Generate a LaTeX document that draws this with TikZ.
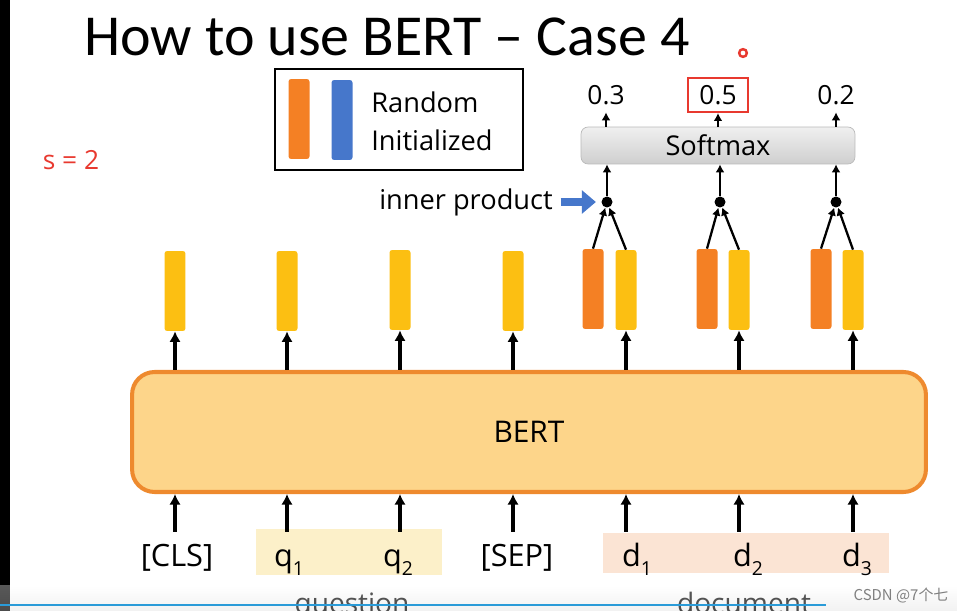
\documentclass[tikz,border=0pt]{standalone}
\usepackage{fontspec}
\setmainfont{Open Sans}
\newfontfamily\titlefont{Carlito}
\newfontfamily\cjkfont{Noto Sans CJK SC}
\usepackage{tikz}
\usetikzlibrary{arrows.meta}

\definecolor{bertorange}{HTML}{EE8A2E}
\definecolor{bertfill}{HTML}{FDD58A}
\definecolor{vecyellow}{HTML}{FCBF12}
\definecolor{vecorange}{HTML}{F48024}
\definecolor{vecblue}{HTML}{4677CB}
\definecolor{slidered}{HTML}{E8392F}
\definecolor{qshade}{HTML}{FCF0C9}
\definecolor{dshade}{HTML}{FBE4D4}
\definecolor{barblue}{HTML}{2A9BD8}

\newcommand{\tsub}[1]{\raisebox{-0.3em}{\fontsize{11}{11}\selectfont #1}}

\tikzset{
  yvec/.style={rectangle, rounded corners=1.5pt, fill=vecyellow, minimum width=0.42cm, minimum height=1.6cm, inner sep=0pt},
  ovec/.style={yvec, fill=vecorange},
  bvec/.style={yvec, fill=vecblue},
  up/.style={-{Latex[length=6pt,width=6.5pt]}, line width=1.9pt},
  thinup/.style={-{Latex[length=4.5pt,width=5pt]}, line width=1.3pt},
  tok/.style={font=\fontsize{17.5}{20}\selectfont, text height=15pt, text depth=4pt, inner xsep=2pt, inner ysep=4.3pt, anchor=base},
  prob/.style={font=\fontsize{15}{18}\selectfont, minimum width=1.2cm, minimum height=0.68cm, inner sep=0pt},
  joint/.style={circle, fill=black, minimum size=0.22cm, inner sep=0pt},
}

\begin{document}
\begin{tikzpicture}[x=0.02cm, y=-0.02cm]
        \useasboundingbox (0,0) rectangle (957,611);
        \clip (0,0) rectangle (957,611);

        % Title and notes
        \fill[black] (0,0) rectangle (10,611);
        \node (title) at (387,37) {\titlefont\fontsize{33}{37}\selectfont How to use BERT – Case 4};
        \draw[slidered, line width=1.4pt] (743,53) circle (2.2pt);
        \node[text=slidered, font=\fontsize{15}{18}\selectfont] (stride) at (71,160) {s = 2};

        % Legend
        \draw[line width=1.2pt] (275,69) rectangle (523,170);
        \node[ovec] (legor) at (299,119) {};
        \node[bvec] (legbl) at (342,120) {};
        \node[align=left, font=\fontsize{15.5}{21.6}\selectfont] (legtxt) at (432,121) {Random\\Initialized};

        % BERT
        \node[draw=bertorange, line width=2.3pt, fill=bertfill, rounded corners=0.45cm,
              minimum width=15.88cm, minimum height=2.4cm, font=\fontsize{17}{20}\selectfont] (bert) at (529,432) {BERT};

        % Output vectors
        \node[yvec] (vcls) at (175,291) {};
        \node[yvec] (vq1) at (287,291) {};
        \node[yvec] (vq2) at (400,290) {};
        \node[yvec] (vsep) at (513,291) {};
        \node[ovec] (o1) at (593,289) {};
        \node[yvec] (vd1) at (626,290) {};
        \node[ovec] (o2) at (707,289) {};
        \node[yvec] (vd2) at (739,290) {};
        \node[ovec] (o3) at (821,289) {};
        \node[yvec] (vd3) at (853,290) {};

        \draw[up] (bert.north -| vcls) -- (vcls.south);
        \draw[up] (bert.north -| vq1) -- (vq1.south);
        \draw[up] (bert.north -| vq2) -- (vq2.south);
        \draw[up] (bert.north -| vsep) -- (vsep.south);
        \draw[up] (bert.north -| vd1) -- (vd1.south);
        \draw[up] (bert.north -| vd2) -- (vd2.south);
        \draw[up] (bert.north -| vd3) -- (vd3.south);

        % Inputs
        \fill[qshade] (256,529) rectangle (442,575);
        \fill[dshade] (603,533) rectangle (889,573);
        \node[tok] (lcls) at (177,566) {[CLS]};
        \node[tok] (lq1) at (289,566) {q\tsub{1}};
        \node[tok] (lq2) at (398,566) {q\tsub{2}};
        \node[tok] (lsep) at (517,566) {[SEP]};
        \node[tok] (ld1) at (637,566) {d\tsub{1}};
        \node[tok] (ld2) at (748,566) {d\tsub{2}};
        \node[tok] (ld3) at (857,566) {d\tsub{3}};

        \draw[up] (lcls.north -| vcls) -- (vcls |- bert.south);
        \draw[up] (lq1.north -| vq1) -- (vq1 |- bert.south);
        \draw[up] (lq2.north -| vq2) -- (vq2 |- bert.south);
        \draw[up] (lsep.north -| vsep) -- (vsep |- bert.south);
        \draw[up] (ld1.north -| vd1) -- (vd1 |- bert.south);
        \draw[up] (ld2.north -| vd2) -- (vd2 |- bert.south);
        \draw[up] (ld3.north -| vd3) -- (vd3 |- bert.south);

        % Inner products and softmax
        \node[joint] (j1) at (607,202) {};
        \node[joint] (j2) at (720,202) {};
        \node[joint] (j3) at (836,202) {};
        \draw[thinup] (o1.north) -- (j1);
        \draw[thinup] (vd1.north) -- (j1);
        \draw[thinup] (o2.north) -- (j2);
        \draw[thinup] (vd2.north) -- (j2);
        \draw[thinup] (o3.north) -- (j3);
        \draw[thinup] (vd3.north) -- (j3);

        \node[draw=gray!55, top color=gray!12, bottom color=gray!38, rounded corners=4pt,
              minimum width=5.48cm, minimum height=0.74cm, font=\fontsize{15.5}{18}\selectfont] (sm) at (718,145.5) {Softmax};
        \draw[thinup] (j1) -- (j1 |- sm.south);
        \draw[thinup] (j2) -- (j2 |- sm.south);
        \draw[thinup] (j3) -- (j3 |- sm.south);

        \node[prob] (p1) at (606,95) {0.3};
        \node[prob, draw=slidered, line width=1.2pt] (p2) at (718,95) {0.5};
        \node[prob] (p3) at (836,95) {0.2};
        \draw[thinup] (sm.north -| p1) -- (p1.south);
        \draw[thinup] (sm.north -| p2) -- (p2.south);
        \draw[thinup] (sm.north -| p3) -- (p3.south);

        \node[font=\fontsize{15.5}{18}\selectfont] (ip) at (466,202) {inner product};
        \draw[vecblue, line width=5pt, -{Triangle[length=8pt,width=13pt]}, shorten <=1pt, shorten >=3pt] (ip.east) -- (j1.west);

        % Bottom strip
        \node[anchor=base, font=\fontsize{16}{18}\selectfont] (question) at (352,613) {question};
        \node[anchor=base, font=\fontsize{16}{18}\selectfont] (document) at (744,613) {document};
        \shade[top color=white, bottom color=gray!30, opacity=0.35] (0,585) rectangle (957,611);
        \draw[barblue, line width=1.1pt] (0,605) -- (826,605);
        \node[text=gray, font=\cjkfont\fontsize{8.5}{10}\selectfont] (mark) at (901,596) {CSDN @7个七};
\end{tikzpicture}
\end{document}
